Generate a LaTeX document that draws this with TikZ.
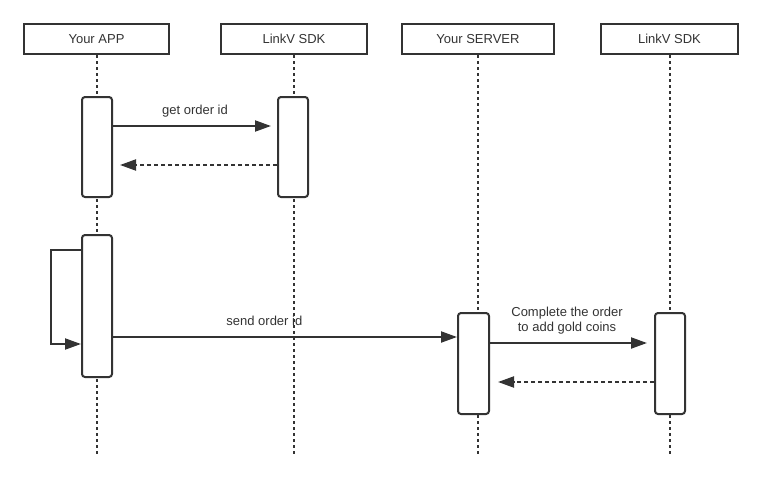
\documentclass[tikz,border=0pt]{standalone}
\usepackage{fontspec}
\setmainfont{Liberation Sans}
\usetikzlibrary{positioning,arrows.meta}
\definecolor{ink}{HTML}{333333}
\tikzset{basic/.style={draw=ink,line width=2pt,text=ink,font=\fontsize{13}{15.5}\selectfont}}
\tikzset{actor/.style={basic,rectangle,minimum height=30pt,inner sep=0pt}}
\tikzset{active/.style={basic,rectangle,rounded corners=3pt,fill=white,minimum width=30pt,inner sep=0pt}}
\tikzset{lifeline/.style={draw=ink,line width=2pt,dash pattern=on 3pt off 3pt}}
\tikzset{msg/.style={draw=ink,line width=2pt,-{Triangle[length=16pt,width=11pt]}}}
\tikzset{reply/.style={msg,dash pattern=on 4pt off 3pt}}
\tikzset{msglabel/.style={text=ink,font=\fontsize{13}{15.5}\selectfont,align=center,inner sep=0pt}}

\begin{document}
\begin{tikzpicture}[x=1pt,y=-1pt]
    \useasboundingbox (0,0) rectangle (763,480);
        % participants
        \node[actor,minimum width=145pt] (app) at (96.5,39) {Your APP};
        \node[actor,minimum width=146pt] (sdk) at (294,39) {LinkV SDK};
        \node[actor,minimum width=152pt] (server) at (478,39) {Your SERVER};
        \node[actor,minimum width=137pt] (sdk2) at (669.5,39) {LinkV SDK};
        \coordinate (bottom) at (0,454);
            \path[lifeline] (app.south) -- (app.south |- bottom);
            \path[lifeline] (sdk.south) -- (sdk.south |- bottom);
            \path[lifeline] (server.south) -- (server.south |- bottom);
            \path[lifeline] (sdk2.south) -- (sdk2.south |- bottom);
        % activations
        \node[active,minimum height=100pt] (app1) at (97,147) {};
        \node[active,minimum height=100pt] (sdk1) at (293,147) {};
        \node[active,minimum height=142pt] (app2) at (97,306) {};
        \node[active,minimum height=101pt,minimum width=31pt] (srv1) at (473.5,363.5) {};
        \node[active,minimum height=101pt] (sdk3) at (670,363.5) {};
        % messages
        \path[msg,shorten >=6pt] ([yshift=-30pt]app1.north east) -- ([yshift=-30pt]sdk1.north west)
            node[msglabel,midway,yshift=15pt] (l1) {get order id};
        \path[reply,shorten >=7pt] ([yshift=-69pt]sdk1.north west) -- ([yshift=-69pt]app1.north east);
        \path[msg] ([yshift=-16pt]app2.north west) -- ++(-30,0) |- ([yshift=-110pt]app2.north west);
        \path[msg] ([yshift=-103pt]app2.north east) coordinate (send) -- (send -| srv1.west)
            node[msglabel,pos=0.44,yshift=16pt] (l2) {send order id};
        \path[msg,shorten >=7pt] ([yshift=-31pt]srv1.north east) -- ([yshift=-31pt]sdk3.north west)
            node[msglabel,midway,xshift=-5pt,yshift=22.5pt] (l3) {Complete the order\\to add gold coins};
        \path[reply,shorten >=8pt] ([yshift=-70pt]sdk3.north west) -- ([yshift=-70pt]srv1.north east);
\end{tikzpicture}
\end{document}
